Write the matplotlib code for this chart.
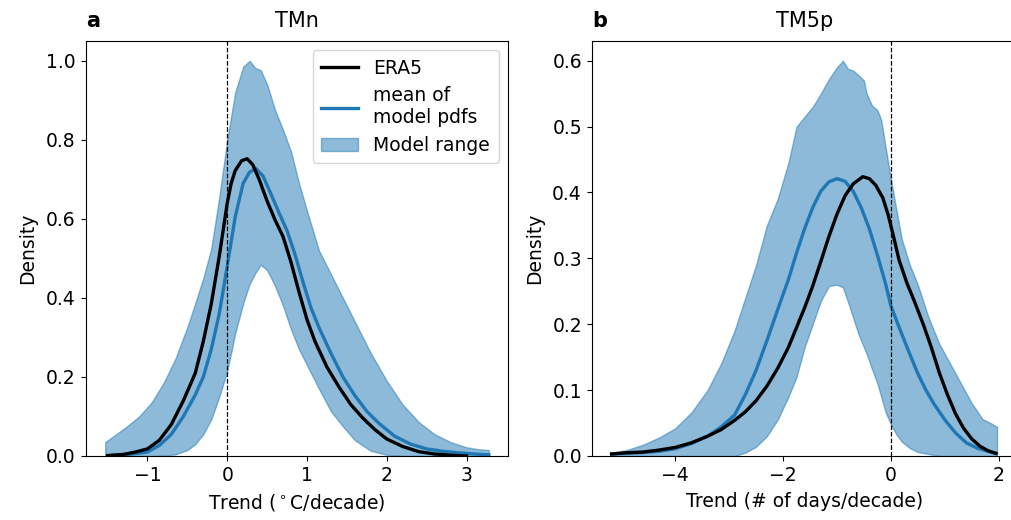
import matplotlib
matplotlib.use("Agg")
import matplotlib.pyplot as plt

# ---------------- Panel a: TMn ----------------
tmn_band_x = [-1.53, -1.4, -1.25, -1.1, -0.95, -0.8, -0.65, -0.5, -0.4, -0.3, -0.2, -0.1,
              0.0, 0.1, 0.2, 0.28, 0.35, 0.42, 0.5, 0.6, 0.7, 0.8, 0.9, 1.0, 1.15, 1.3,
              1.45, 1.6, 1.8, 2.0, 2.2, 2.4, 2.6, 2.8, 3.0, 3.15, 3.28]
tmn_band_hi = [0.035, 0.054, 0.076, 0.101, 0.135, 0.184, 0.246, 0.326, 0.387, 0.45, 0.525, 0.655,
               0.80, 0.92, 0.985, 1.0, 0.982, 0.976, 0.94, 0.875, 0.825, 0.77, 0.69, 0.62, 0.52, 0.46,
               0.40, 0.34, 0.26, 0.19, 0.13, 0.086, 0.055, 0.035, 0.022, 0.017, 0.015]
tmn_band_lo = [0.0, 0.0, 0.0, 0.0, 0.0, 0.001, 0.004, 0.015, 0.03, 0.055, 0.093, 0.15,
               0.215, 0.31, 0.386, 0.435, 0.462, 0.484, 0.47, 0.43, 0.38, 0.32, 0.27, 0.23, 0.17, 0.113,
               0.075, 0.04, 0.013, 0.003, 0.0, 0.0, 0.0, 0.0, 0.0, 0.0, 0.0]

tmn_era5_x = [-1.5, -1.3, -1.15, -1.0, -0.85, -0.7, -0.55, -0.4, -0.3, -0.2, -0.1, 0.0, 0.05, 0.1, 0.18,
              0.25, 0.32, 0.4, 0.5, 0.6, 0.7, 0.8, 0.9, 1.0, 1.1, 1.25, 1.4, 1.55, 1.7, 1.85,
              2.0, 2.2, 2.4, 2.6, 2.8, 3.0]
tmn_era5_y = [0.001, 0.004, 0.01, 0.018, 0.04, 0.08, 0.14, 0.21, 0.29, 0.385, 0.505, 0.64, 0.69, 0.722, 0.747,
              0.752, 0.737, 0.70, 0.645, 0.597, 0.555, 0.49, 0.415, 0.345, 0.29, 0.225, 0.175, 0.13, 0.096, 0.067,
              0.043, 0.024, 0.011, 0.005, 0.002, 0.0]

tmn_mean_x = [-1.5, -1.3, -1.15, -1.0, -0.85, -0.7, -0.55, -0.4, -0.3, -0.2, -0.1, 0.0, 0.1, 0.2,
              0.28, 0.36, 0.45, 0.55, 0.65, 0.75, 0.85, 0.95, 1.05, 1.15, 1.3, 1.45, 1.6, 1.75,
              1.9, 2.1, 2.3, 2.5, 2.7, 2.9, 3.1, 3.28]
tmn_mean_y = [0.001, 0.003, 0.006, 0.01, 0.027, 0.055, 0.1, 0.155, 0.2, 0.27, 0.36, 0.48, 0.605, 0.69,
              0.718, 0.727, 0.708, 0.662, 0.615, 0.57, 0.51, 0.44, 0.375, 0.325, 0.26, 0.2, 0.153, 0.113,
              0.083, 0.05, 0.03, 0.018, 0.012, 0.008, 0.005, 0.003]

# ---------------- Panel b: TM5p ----------------
tm5p_band_x = [-5.18, -4.9, -4.6, -4.3, -4.0, -3.7, -3.4, -3.15, -2.9, -2.7, -2.5, -2.3, -2.1, -1.9,
               -1.75, -1.6, -1.45, -1.3, -1.15, -1.0, -0.89, -0.8, -0.7, -0.6, -0.5, -0.45, -0.35,
               -0.25, -0.18, -0.1, 0.0, 0.1, 0.2, 0.35, 0.5, 0.7, 0.9, 1.1, 1.3, 1.5, 1.7, 1.85, 1.97]
tm5p_band_hi = [0.005, 0.009, 0.017, 0.028, 0.042, 0.066, 0.1, 0.14, 0.19, 0.24, 0.29, 0.35, 0.39, 0.445,
                0.50, 0.515, 0.53, 0.55, 0.572, 0.59, 0.60, 0.588, 0.585, 0.578, 0.57, 0.55, 0.532,
                0.525, 0.51, 0.47, 0.42, 0.375, 0.33, 0.29, 0.26, 0.21, 0.17, 0.14, 0.11, 0.08, 0.056, 0.05, 0.044]
tm5p_band_lo = [0.0, 0.0, 0.0, 0.0, 0.0, 0.0, 0.0, 0.0, 0.0, 0.005, 0.014, 0.03, 0.055, 0.09,
                0.12, 0.165, 0.2, 0.235, 0.258, 0.26, 0.256, 0.235, 0.21, 0.185, 0.165, 0.155, 0.132,
                0.11, 0.09, 0.067, 0.048, 0.033, 0.022, 0.012, 0.006, 0.003, 0.0, 0.0, 0.0, 0.0, 0.0, 0.0, 0.0]

tm5p_era5_x = [-5.18, -4.9, -4.6, -4.3, -4.0, -3.7, -3.4, -3.15, -2.9, -2.7, -2.5, -2.3, -2.1, -1.9,
               -1.75, -1.6, -1.45, -1.3, -1.15, -1.0, -0.85, -0.7, -0.52, -0.4, -0.28, -0.15, -0.05,
               0.05, 0.15, 0.3, 0.45, 0.6, 0.75, 0.9, 1.05, 1.2, 1.35, 1.5, 1.65, 1.8, 1.95]
tm5p_era5_y = [0.003, 0.005, 0.006, 0.009, 0.013, 0.02, 0.03, 0.04, 0.054, 0.067, 0.084, 0.106, 0.133, 0.165,
               0.195, 0.225, 0.258, 0.295, 0.333, 0.367, 0.395, 0.413, 0.424, 0.421, 0.411, 0.392, 0.366,
               0.333, 0.298, 0.262, 0.232, 0.2, 0.165, 0.126, 0.093, 0.064, 0.042, 0.026, 0.015, 0.008, 0.004]

tm5p_mean_x = [-5.18, -4.6, -4.3, -4.0, -3.7, -3.4, -3.15, -2.9, -2.7, -2.5, -2.3, -2.1, -1.9, -1.75,
               -1.6, -1.45, -1.3, -1.15, -1.0, -0.85, -0.7, -0.55, -0.4, -0.25, -0.1, 0.0, 0.15, 0.3,
               0.5, 0.65, 0.8, 1.0, 1.2, 1.4, 1.6, 1.8, 1.95]
tm5p_mean_y = [0.003, 0.005, 0.007, 0.011, 0.019, 0.03, 0.044, 0.062, 0.093, 0.13, 0.175, 0.222, 0.268, 0.308,
               0.345, 0.377, 0.402, 0.416, 0.421, 0.417, 0.402, 0.377, 0.345, 0.305, 0.262, 0.228, 0.196, 0.165,
               0.125, 0.1, 0.079, 0.055, 0.035, 0.02, 0.012, 0.007, 0.004]

panel_letters = ["a", "b"]
panel_titles = ["TMn", "TM5p"]
x_labels = ["Trend ($^\\circ$C/decade)", "Trend (# of days/decade)"]
y_label = "Density"
legend_labels = ["ERA5", "mean of\nmodel pdfs", "Model range"]

FS = 13.5
plt.rcParams["font.family"] = ["DejaVu Sans"]
plt.rcParams["font.size"] = FS

fig = plt.figure(figsize=(10.12, 5.20), dpi=100)
ax1 = fig.add_axes([0.0850, 0.1231, 0.4170, 0.7981])
ax2 = fig.add_axes([0.5853, 0.1231, 0.4190, 0.7981])

panels = [
    (ax1, tmn_band_x, tmn_band_lo, tmn_band_hi, tmn_era5_x, tmn_era5_y, tmn_mean_x, tmn_mean_y),
    (ax2, tm5p_band_x, tm5p_band_lo, tm5p_band_hi, tm5p_era5_x, tm5p_era5_y, tm5p_mean_x, tm5p_mean_y),
]

for i, (ax, bx, blo, bhi, ex, ey, mx, my) in enumerate(panels):
    ln_e, = ax.plot(ex, ey, color="black", lw=2.4, label=legend_labels[0], zorder=3,
                    solid_joinstyle="round")
    ln_m, = ax.plot(mx, my, color="tab:blue", lw=2.4, label=legend_labels[1], zorder=2,
                    solid_joinstyle="round")
    band = ax.fill_between(bx, blo, bhi, color="tab:blue", alpha=0.5, label=legend_labels[2], zorder=1)
    ax.axvline(0, color="black", ls="--", lw=0.9, zorder=4)
    ax.set_ylim(bottom=0)
    ax.set_ylabel(y_label, fontsize=FS, labelpad=6)
    ax.set_xlabel(x_labels[i], fontsize=FS, labelpad=5)
    ax.set_title(panel_titles[i], fontsize=15, pad=10)
    ax.set_title(panel_letters[i], loc="left", fontweight="bold", fontsize=15, pad=10)
    ax.tick_params(labelsize=FS, pad=4)
    if i == 0:
        ax.legend(handles=[ln_e, ln_m, band], loc="upper right", fontsize=FS,
                  handlelength=2.0, labelspacing=0.45, borderpad=0.45, handletextpad=0.8)

fig.savefig("out.png", dpi=100)
